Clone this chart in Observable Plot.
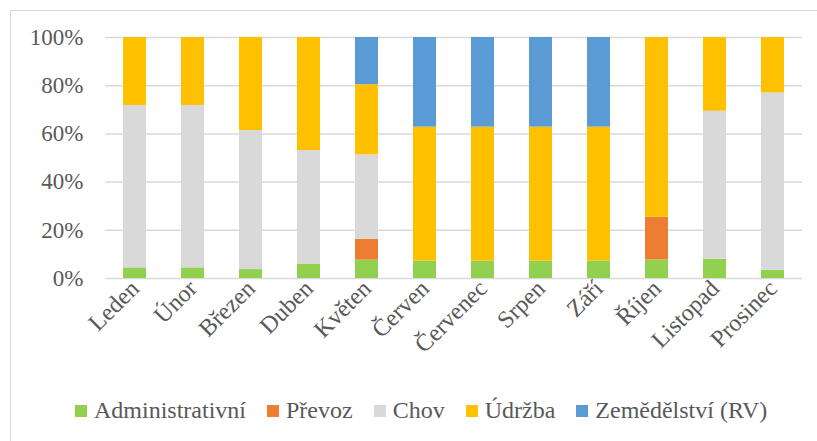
<!DOCTYPE html>
<html>
<head>
<meta charset="utf-8">
<script src="https://cdn.jsdelivr.net/npm/d3@7"></script>
<script src="https://cdn.jsdelivr.net/npm/@observablehq/plot@0.6"></script>
<style>
  html, body { margin: 0; padding: 0; background: #fff; width: 817px; height: 441px; overflow: hidden; }
  #frame { position: absolute; left: 10px; top: 10px; width: 900px; height: 600px; border: 1.5px solid #d9d9d9; box-sizing: border-box; }
  #chart { position: absolute; left: 0; top: 0; }
  #legend { position: absolute; left: 75px; top: 397px; display: flex; align-items: center; font-family: "Liberation Serif", "Times New Roman", serif; font-size: 24px; color: #595959; white-space: nowrap; }
  .item { display: flex; align-items: center; margin-right: 21px; }
  .sw { width: 12px; height: 12px; margin-right: 7px; }
</style>
</head>
<body>
<div id="frame"></div>
<div id="chart"></div>
<div id="legend"></div>
<script>
const months = ["Leden", "Únor", "Březen", "Duben", "Květen", "Červen", "Červenec", "Srpen", "Září", "Říjen", "Listopad", "Prosinec"];
const seriesNames = ["Administrativní", "Převoz", "Chov", "Údržba", "Zemědělství (RV)"];
const seriesColors = ["#92D050", "#ED7D31", "#D9D9D9", "#FFC000", "#5B9BD5"];
const administrativni = [4.4, 4.4, 3.7, 6.0, 7.6, 7.2, 7.2, 7.2, 7.2, 7.7, 8.0, 3.4];
const prevoz          = [0, 0, 0, 0, 8.7, 0, 0, 0, 0, 17.7, 0, 0];
const chov            = [67.4, 67.4, 57.7, 47.1, 35.0, 0, 0, 0, 0, 0, 61.4, 73.6];
const udrzba          = [28.2, 28.2, 38.6, 46.9, 29.1, 55.6, 55.6, 55.6, 55.6, 74.6, 30.6, 23.0];
const zemedelstvi     = [0, 0, 0, 0, 19.6, 37.2, 37.2, 37.2, 37.2, 0, 0, 0];
const yTicks = [0, 20, 40, 60, 80, 100];

const seriesValues = [administrativni, prevoz, chov, udrzba, zemedelstvi];
const data = [];
months.forEach((m, i) => {
  seriesNames.forEach((s, j) => {
    data.push({month: m, series: s, value: seriesValues[j][i]});
  });
});

const font = '"Liberation Serif", "Times New Roman", serif';
const chart = Plot.plot({
  width: 817,
  height: 380,
  marginLeft: 105,
  marginRight: 15,
  marginTop: 37,
  marginBottom: 102,
  style: {fontFamily: font, fontSize: "23px", color: "#595959", background: "transparent"},
  x: {domain: months, paddingInner: 0.6, paddingOuter: 0.3, label: null},
  y: {domain: [0, 100], label: null},
  color: {domain: seriesNames, range: seriesColors},
  marks: [
    Plot.ruleY(yTicks, {stroke: "#d9d9d9", strokeWidth: 1.5}),
    Plot.barY(data, Plot.stackY({x: "month", y: "value", fill: "series", order: seriesNames})),
    Plot.axisY({ticks: yTicks, tickFormat: d => d + "%", tickSize: 0, tickPadding: 22, label: null, fill: "#595959", fontFamily: font, fontSize: 23}),
    Plot.axisX({tickSize: 0, tickRotate: -45, tickPadding: 6, label: null, fill: "#595959", fontFamily: font, fontSize: 24})
  ]
});
document.getElementById("chart").appendChild(chart);

const legend = document.getElementById("legend");
seriesNames.forEach((s, i) => {
  const it = document.createElement("div");
  it.className = "item";
  const sw = document.createElement("div");
  sw.className = "sw";
  sw.style.background = seriesColors[i];
  const t = document.createElement("span");
  t.textContent = s;
  it.appendChild(sw);
  it.appendChild(t);
  legend.appendChild(it);
});
</script>
</body>
</html>
